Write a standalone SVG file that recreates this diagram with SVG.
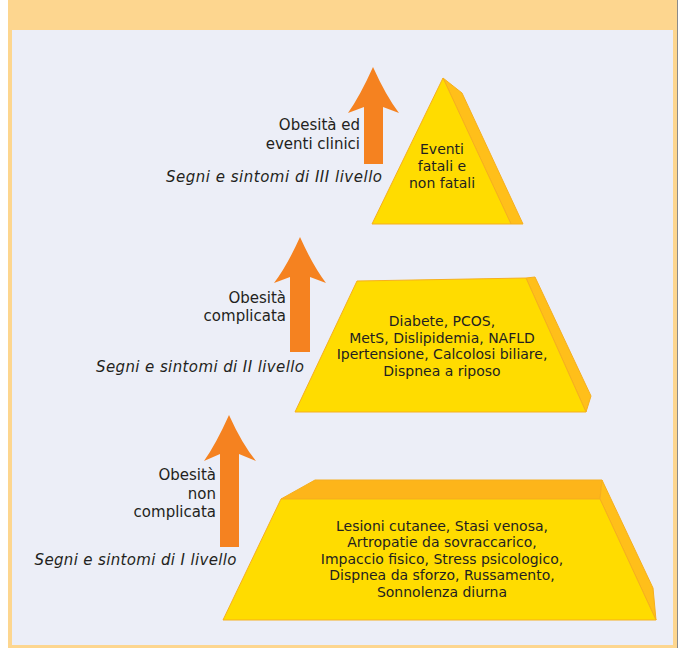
<svg xmlns="http://www.w3.org/2000/svg" width="678" height="648" viewBox="0 0 678 648">
<style>
.t{font-family:"DejaVu Sans","Liberation Sans",sans-serif;fill:#231F20}
.lab{font-size:15px;text-anchor:end}
.it{font-size:15px;font-style:italic}
.pt{font-size:14px;text-anchor:middle}
.front{fill:#FFDC00;stroke:#F6AF1E;stroke-width:1}
.side{fill:#FFBF1A;stroke:#F6AF1E;stroke-width:1}
.top{fill:#FDB51A;stroke:#F6AF1E;stroke-width:1}
.arrow{fill:#F58220}
</style>
<rect x="8" y="0" width="670" height="648" fill="#FDD68F"/>
<rect x="12" y="30" width="661" height="615" fill="#ECEEF7"/>
<line x1="677.5" y1="0" x2="677.5" y2="648" stroke="#8A8A8A" stroke-width="1"/>

<g id="connectors">
<path class="arrow" d="M373,67 Q360,96 348,113 L364,107 L364,164 L383,164 L383,107 L399,113 Q386,96 373,67 Z"/>
<path class="arrow" d="M300,237 Q287,266 274,283 L290,277 L290,352 L310,352 L310,277 L326,283 Q313,266 300,237 Z"/>
<path class="arrow" d="M229,415 Q216,444 204,461 L220,454 L220,547 L239,547 L239,454 L256,461 Q242,444 229,415 Z"/>
</g>

<g id="level3">
<polygon class="side" points="443,78 462,93 523,224 511,224"/>
<polygon class="front" points="443,78 372,224 511,224"/>
<text class="t pt" x="442" y="154">Eventi</text>
<text class="t pt" x="442" y="171">fatali e</text>
<text class="t pt" x="442" y="187.5">non fatali</text>
</g>

<g id="level2">
<polygon class="side" points="526,278 535,277 591,396 586,412"/>
<polygon class="front" points="357,281 526,278 586,412 295,412"/>
<text class="t pt" x="442" y="326">Diabete, PCOS,</text>
<text class="t pt" x="442" y="342.5">MetS, Dislipidemia, NAFLD</text>
<text class="t pt" x="442" y="359">Ipertensione, Calcolosi biliare,</text>
<text class="t pt" x="442" y="375.5">Dispnea a riposo</text>
</g>

<g id="level1">
<polygon class="top" points="281,499 315,480 602,480 600,499"/>
<polygon class="side" points="602,480 653,588 656,620 600,499"/>
<polygon class="front" points="281,499 600,499 656,620 223,620"/>
<text class="t pt" x="442" y="531">Lesioni cutanee, Stasi venosa,</text>
<text class="t pt" x="442" y="547.4">Artropatie da sovraccarico,</text>
<text class="t pt" x="442" y="563.8">Impaccio fisico, Stress psicologico,</text>
<text class="t pt" x="442" y="580.2">Dispnea da sforzo, Russamento,</text>
<text class="t pt" x="442" y="596.6">Sonnolenza diurna</text>
</g>

<g id="label3">
<text class="t lab" x="360" y="130">Obesità ed</text>
<text class="t lab" x="360" y="148.5">eventi clinici</text>
<text class="t it" x="166" y="182" textLength="216" lengthAdjust="spacing">Segni e sintomi di III livello</text>
</g>

<g id="label2">
<text class="t lab" x="286" y="302.7">Obesità</text>
<text class="t lab" x="286" y="321">complicata</text>
<text class="t it" x="96" y="371.5" textLength="208" lengthAdjust="spacing">Segni e sintomi di II livello</text>
</g>

<g id="label1">
<text class="t lab" x="216" y="480">Obesità</text>
<text class="t lab" x="216" y="498.5">non</text>
<text class="t lab" x="216" y="517">complicata</text>
<text class="t it" x="34.5" y="565" textLength="202" lengthAdjust="spacing">Segni e sintomi di I livello</text>
</g>
</svg>
